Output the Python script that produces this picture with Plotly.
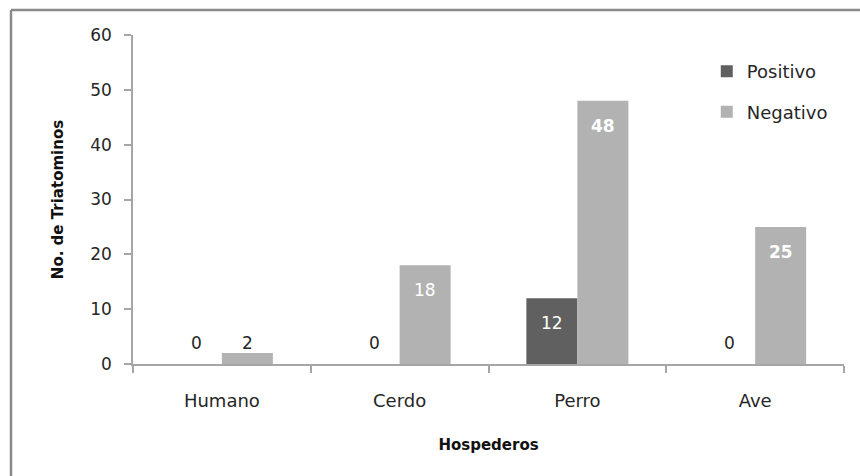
import plotly.graph_objects as go

categories = ["Humano", "Cerdo", "Perro", "Ave"]
positivo = [0, 0, 12, 0]
negativo = [2, 18, 48, 25]
y_ticks = [0, 10, 20, 30, 40, 50, 60]

W, H = 860, 476
ML, MR, MT, MB = 133, 16, 35, 112
plot_w = W - ML - MR
plot_h = H - MT - MB
BARGAP = 0.426

FONT = "DejaVu Sans"
POS_C = "#606060"
NEG_C = "#b2b2b2"
AX_C = "#a6a6a6"

fig = go.Figure()
fig.add_trace(go.Bar(x=categories, y=positivo, name="Positivo", marker_color=POS_C,
                     marker_line_width=0, legendgroup="p"))
fig.add_trace(go.Bar(x=categories, y=negativo, name="Negativo", marker_color=NEG_C,
                     marker_line_width=0, legendgroup="n"))

# data labels
cat_px = plot_w / len(categories)
bar_px = cat_px * (1 - BARGAP) / 2
annotations = []
for series, sign in ((positivo, -1), (negativo, 1)):
    for c, v in zip(categories, series):
        if v >= 10:
            txt = f"<b>{v}</b>" if v > 20 else str(v)
            annotations.append(dict(x=c, y=v, text=txt, showarrow=False, xref="x", yref="y",
                                    xshift=sign * bar_px / 2, yshift=-25,
                                    font=dict(family=FONT, size=17, color="white")))
        else:
            annotations.append(dict(x=c, y=v, text=str(v), showarrow=False, xref="x", yref="y",
                                    xshift=sign * bar_px / 2, yshift=21 if v == 0 else 10,
                                    font=dict(family=FONT, size=17, color="#262626")))

# outer frame (partly cropped)
fx = (11 - ML) / plot_w
fy = 1 + (MT - 10) / plot_h
shapes = [
    dict(type="line", xref="paper", yref="paper", x0=fx, x1=1.5, y0=fy, y1=fy,
         line=dict(color="#8a8a8a", width=2.5)),
    dict(type="line", xref="paper", yref="paper", x0=fx, x1=fx, y0=fy, y1=-1,
         line=dict(color="#8a8a8a", width=2.5)),
]

fig.update_layout(
    width=W, height=H,
    margin=dict(l=ML, r=MR, t=MT, b=MB, pad=0),
    paper_bgcolor="white", plot_bgcolor="white",
    barmode="group", bargap=BARGAP, bargroupgap=0,
    font=dict(family=FONT, size=17, color="#262626"),
    showlegend=True,
    legend=dict(x=0.807, y=0.945, xanchor="left", yanchor="top",
                font=dict(family=FONT, size=18, color="#262626"),
                bgcolor="rgba(0,0,0,0)", tracegroupgap=14, itemclick=False),
    annotations=annotations,
    shapes=shapes,
    xaxis=dict(
        type="category", showline=True, linecolor=AX_C, linewidth=1.5,
        ticks="outside", tickson="boundaries", ticklen=7, tickcolor=AX_C, tickwidth=1.5,
        showgrid=False, tickfont=dict(family=FONT, size=18, color="#262626"),
        ticklabelstandoff=20,
        title=dict(text="<b>Hospederos</b>", font=dict(family=FONT, size=15, color="#111"),
                   standoff=29),
    ),
    yaxis=dict(
        range=[0, 60], tickvals=y_ticks, showline=True, linecolor=AX_C, linewidth=1.5,
        ticks="outside", ticklen=7, tickcolor=AX_C, tickwidth=1.5,
        showgrid=False, zeroline=False, tickfont=dict(family=FONT, size=17, color="#262626"),
        ticklabelstandoff=9,
        title=dict(text="<b>No. de Triatominos</b>", font=dict(family=FONT, size=15, color="#111"),
                   standoff=23),
    ),
)

fig.write_html("out.html")
